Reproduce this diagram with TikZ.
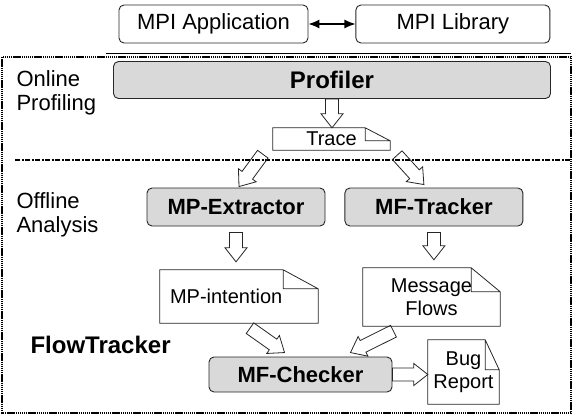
\documentclass[tikz,border=0pt]{standalone}
\usepackage{fontspec}
\setmainfont{Liberation Sans}
\usetikzlibrary{positioning,calc,arrows.meta}

\newcommand\arrshaft{6.5pt}
\newcommand\arrhead{11pt}
\newcommand\arrlen{14pt}

\begin{document}
\begin{tikzpicture}[x=1pt, y=1pt, font=\fontsize{22}{24}\selectfont,
    box/.style = {draw=black!85, line width=0.9pt, rounded corners=5pt, minimum height=38pt},
    part/.style = {box, fill=gray!30, font=\fontsize{22}{24}\selectfont\bfseries},
    doc/.style = {inner sep=0pt, align=center, font=\fontsize{20}{23}\selectfont},
    bigarrow/.style = {draw=black!85, line width=0.8pt, to path={
        ($(\tikztotarget)!\arrlen!(\tikztostart)$) coordinate (ab)
        ($(\tikztostart)!\arrshaft!90:(\tikztotarget)$)
        -- ($(ab)!\arrshaft!90:(\tikztotarget)$)
        -- ($(ab)!\arrhead!90:(\tikztotarget)$)
        -- (\tikztotarget)
        -- ($(ab)!\arrhead!-90:(\tikztotarget)$)
        -- ($(ab)!\arrshaft!-90:(\tikztotarget)$)
        -- ($(\tikztostart)!\arrshaft!-90:(\tikztotarget)$) -- cycle}}]
    \useasboundingbox (0,0) rectangle (573,-418);
    % MPI side
    \node[box, minimum width=189pt] (app) at (213.5,-24) {MPI Application};
    \node[box, minimum width=194pt] (lib) [right=47pt of app] {MPI Library};
    \draw[{Latex[length=11pt,width=9pt]}-{Latex[length=11pt,width=9pt]}, line width=1.2pt] (app) -- (lib);
    \draw[line width=0.8pt] (106,-53) -- (571,-53);
    % tool frame
    \draw[dash pattern=on 1.4pt off 0.7pt, line width=2.3pt] (2,-57) rectangle (571,-413);
    \draw[line width=2.3pt, dash pattern=on 5pt off 1.5pt on 2pt off 1.5pt] (15,-160) -- (571,-160);
    \node[anchor=west, align=left] (online) at (13,-93) {Online\\Profiling};
    \node[anchor=west, align=left] (offline) at (13,-215) {Offline\\Analysis};
    \node[anchor=west, font=\fontsize{24}{28}\selectfont\bfseries] (name) at (27,-345) {FlowTracker};
    % components
    \node[part, minimum width=437pt, minimum height=37pt, font=\fontsize{24}{26}\selectfont\bfseries] (prof) at (332,-80) {Profiler};
    \node[doc, minimum width=117pt, minimum height=22pt] (trace) at (331.5,-139) {Trace};
    \node[part, minimum width=178pt] (ext) at (236,-207) {MP-Extractor};
    \node[part, minimum width=178pt] (trk) [right=19pt of ext] {MF-Tracker};
    \node[doc, minimum width=158pt, minimum height=53pt, text width=138pt, align=left] (mpint) at (239,-296.5) {MP-intention};
    \node[doc, minimum width=137pt, minimum height=58pt] (flows) at (431.5,-297) {Message\\Flows};
    \node[part, minimum width=183pt, minimum height=35pt] (chk) at (300.5,-374.5) {MF-Checker};
    \node[doc, minimum width=71pt, minimum height=64pt] (bug) at (463.5,-372) {Bug\\Report};
    % document outlines with folded corner
    \foreach \d/\fx/\fy in {trace/25/13, mpint/35/19, flows/29/24, bug/14/30}
        \draw[draw=black!85, line width=0.8pt] (\d.north west) -- ([xshift=-\fx pt]\d.north east)
            -- ([yshift=-\fy pt]\d.north east) -- (\d.south east) -- (\d.south west) -- cycle
            ([xshift=-\fx pt]\d.north east) |- ([yshift=-\fy pt]\d.north east);
    % data flow
    \draw[bigarrow] (prof.south) to (prof.south |- trace.north);
    \draw[bigarrow] ([xshift=-10pt,yshift=-4pt]trace.south west) to ([xshift=3pt,yshift=1pt]ext.north);
    \draw[bigarrow] ([xshift=7pt,yshift=-5pt]trace.south east) to ([xshift=-10pt,yshift=3pt]trk.north);
    \draw[bigarrow] ([yshift=-6pt]ext.south) to ([yshift=8pt]ext.south |- mpint.north);
    \draw[bigarrow] ([yshift=-6pt]trk.south) to ([yshift=8pt]trk.south |- flows.north);
    \draw[bigarrow] ([xshift=11pt,yshift=-5pt]mpint.south) to ([xshift=-16pt,yshift=4pt]chk.north);
    \draw[bigarrow] ([xshift=-38pt,yshift=-5pt]flows.south) to ([xshift=50pt,yshift=4pt]chk.north);
    \draw[bigarrow] (chk.east) to (chk.east -| bug.west);
\end{tikzpicture}
\end{document}
